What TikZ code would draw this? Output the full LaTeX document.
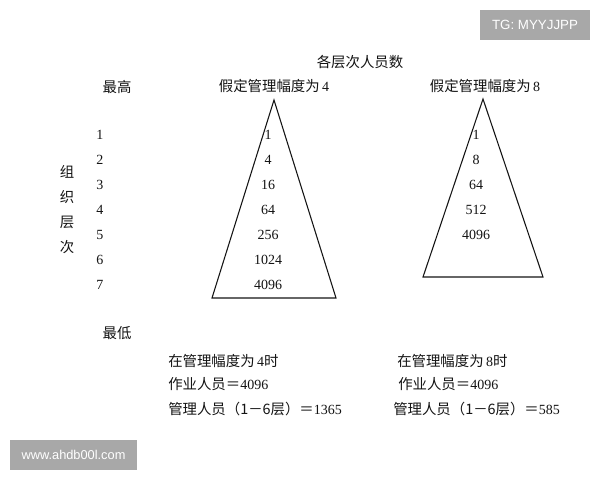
\documentclass[tikz,border=0pt]{standalone}
\usepackage{fontspec}
\setmainfont{Liberation Serif}
\newfontfamily\cjk{Noto Sans CJK SC}
\newfontfamily\wmfont{Liberation Sans}
\definecolor{ink}{HTML}{141414}
\definecolor{wmgray}{HTML}{A8A8A8}
\tikzset{
  lbl/.style={inner sep=0pt, text=ink, font=\cjk\fontsize{10.8pt}{12pt}\selectfont},
  num/.style={inner sep=0pt, text=ink, font=\fontsize{10.5pt}{12pt}\selectfont},
  tri/.style={draw=ink, line width=0.8pt, line join=miter},
  wm/.style={fill=wmgray, text=white, inner sep=0pt, font=\wmfont\fontsize{10pt}{12pt}\selectfont}
}
\newcommand{\dg}[1]{{\rmfamily\fontsize{10.5pt}{12pt}\selectfont #1}}
\begin{document}
\begin{tikzpicture}[x=0.75pt,y=-0.75pt]
\useasboundingbox (0,0) rectangle (600,480);
\fill[white] (0,0) rectangle (600,480);
% watermarks
\node[wm, minimum width=110*0.75pt, minimum height=30*0.75pt] (wmtop) at (535,25) {TG: MYYJJPP};
\node[wm, font=\wmfont\fontsize{9.6pt}{12pt}\selectfont, minimum width=127*0.75pt, minimum height=30*0.75pt] (wmbot) at (73.5,455) {www.ahdb00l.com};
% titles
\node[lbl] (title) at (360,62) {各层次人员数};
\node[lbl] (hi) at (117,87) {最高};
\node[lbl] (h4) at (274,86) {假定管理幅度为\,\dg{4}};
\node[lbl] (h8) at (485,86) {假定管理幅度为\,\dg{8}};
\node[lbl] (lo) at (117,333) {最低};
% vertical label
\node[lbl] (v1) at (67,172) {组};
\node[lbl] (v2) at (67,197) {织};
\node[lbl] (v3) at (67,222) {层};
\node[lbl] (v4) at (67,247) {次};
% triangles
\coordinate (a4) at (274,100);
\coordinate (l4) at (212,298);
\coordinate (r4) at (336,298);
\draw[tri] (a4) -- (l4) -- (r4) -- cycle;
\coordinate (a8) at (483,99);
\coordinate (l8) at (423,277);
\coordinate (r8) at (543,277);
\draw[tri] (a8) -- (l8) -- (r8) -- cycle;
% level numbers
\foreach \i in {1,...,7}{
  \node[num, anchor=west] (lev\i) at (96,110+25*\i) {\i};
}
% left triangle numbers
\node[num] (p41) at (268,135) {1};
\node[num] (p42) at (268,160) {4};
\node[num] (p43) at (268,185) {16};
\node[num] (p44) at (268,210) {64};
\node[num] (p45) at (268,235) {256};
\node[num] (p46) at (268,260) {1024};
\node[num] (p47) at (268,285) {4096};
% right triangle numbers
\node[num] (p81) at (476,135) {1};
\node[num] (p82) at (476,160) {8};
\node[num] (p83) at (476,185) {64};
\node[num] (p84) at (476,210) {512};
\node[num] (p85) at (476,235) {4096};
% bottom texts
\node[lbl, anchor=west] (b41) at (168,361) {在管理幅度为\,\dg{4}时};
\node[lbl, anchor=west] (b42) at (168,384) {作业人员＝\dg{4096}};
\node[lbl, anchor=west] (b43) at (168,409) {管理人员（1－6层）＝\dg{1365}};
\node[lbl, anchor=west] (b81) at (397,361) {在管理幅度为\,\dg{8}时};
\node[lbl, anchor=west] (b82) at (398,384) {作业人员＝\dg{4096}};
\node[lbl, anchor=west] (b83) at (393,409) {管理人员（1－6层）＝\dg{585}};
\end{tikzpicture}
\end{document}
